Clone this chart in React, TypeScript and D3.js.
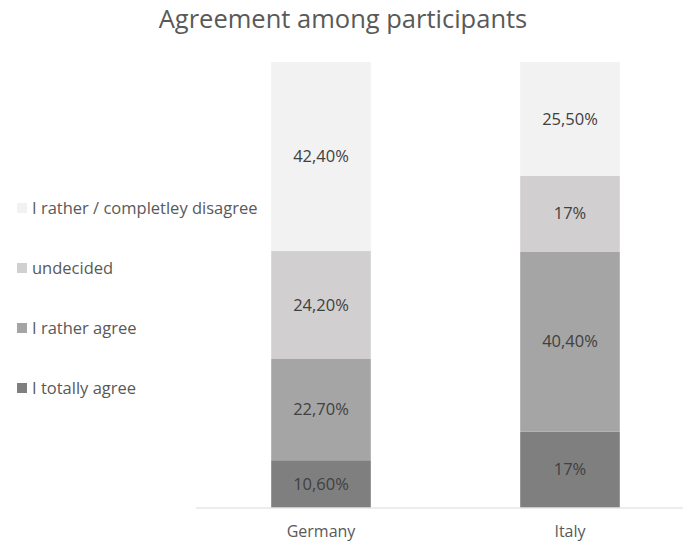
import React from "react";
import * as d3 from "d3";

const categories = ["Germany", "Italy"];
const seriesNames = ["I totally agree", "I rather agree", "undecided", "I rather / completley disagree"];
const totallyAgree = [10.6, 17];
const ratherAgree = [22.7, 40.4];
const undecided = [24.2, 17];
const disagree = [42.4, 25.5];
const seriesLabels = [
  ["10,60%", "17%"],
  ["22,70%", "40,40%"],
  ["24,20%", "17%"],
  ["42,40%", "25,50%"],
];
const colors = ["#7f7f7f", "#a5a5a5", "#d1cfcf", "#f2f2f2"];

const W = 683;
const H = 544;
const FONT = "'Open Sans', 'Noto Sans', sans-serif";

export default function App() {
  const x = d3
    .scaleBand<string>()
    .domain(categories)
    .range([196.5, 694.5])
    .paddingInner(0.6)
    .paddingOuter(0.3);
  const y = d3.scaleLinear().domain([0, 100]).range([507.5, 61.5]);

  const rows = categories.map((c, i) => ({
    cat: c,
    s0: totallyAgree[i],
    s1: ratherAgree[i],
    s2: undecided[i],
    s3: disagree[i],
  }));
  const stack = d3.stack<any>().keys(["s0", "s1", "s2", "s3"]);
  const layers = stack(rows);

  const legendOrder = [3, 2, 1, 0];
  const legendY = d3.scalePoint<number>().domain(legendOrder).range([208, 388]);

  return (
    <svg
      width={W}
      height={H}
      style={{ position: "absolute", left: 0, top: 0, background: "#fff" }}
      fontFamily={FONT}
    >
      <rect x={0} y={0} width={W} height={H} fill="#fff" />
      <text x={343} y={27.5} textAnchor="middle" fontSize={25.5} fill="#595959">
        Agreement among participants
      </text>
      {layers.map((layer, li) =>
        layer.map((d, ci) => {
          const bx = x(categories[ci])!;
          const y0 = y(d[0]);
          const y1 = y(d[1]);
          return (
            <g key={`${li}-${ci}`}>
              <rect x={bx} y={y1} width={x.bandwidth()} height={y0 - y1} fill={colors[li]} />
              <text
                x={bx + x.bandwidth() / 2}
                y={(y0 + y1) / 2}
                dy="0.35em"
                textAnchor="middle"
                fontSize={16.5}
                fill="#404040"
              >
                {seriesLabels[li][ci]}
              </text>
            </g>
          );
        })
      )}
      <line x1={196} x2={W} y1={y(0) + 0.5} y2={y(0) + 0.5} stroke="#d9d9d9" strokeWidth={1} />
      {categories.map((c) => (
        <text
          key={c}
          x={x(c)! + x.bandwidth() / 2}
          y={537}
          textAnchor="middle"
          fontSize={16}
          fill="#595959"
        >
          {c}
        </text>
      ))}
      {legendOrder.map((si) => (
        <g key={si} transform={`translate(17,${legendY(si)})`}>
          <rect x={0} y={-5} width={10} height={10} fill={colors[si]} />
          <text x={15} y={6} fontSize={16.5} fill="#595959">
            {seriesNames[si]}
          </text>
        </g>
      ))}
    </svg>
  );
}
